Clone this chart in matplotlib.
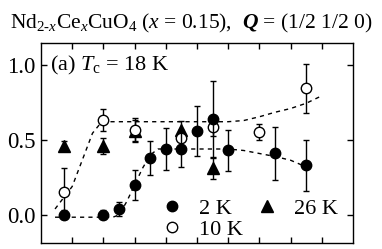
import matplotlib
matplotlib.use('Agg')
import matplotlib.pyplot as plt
from matplotlib.lines import Line2D

plt.rcParams.update({
    'font.family': 'Liberation Serif',
    'mathtext.fontset': 'custom',
    'mathtext.rm': 'Liberation Serif',
    'mathtext.it': 'Liberation Serif:italic',
    'mathtext.bf': 'Liberation Serif:italic:bold',
    'axes.linewidth': 1.0,
})

# ── DATA ────────────────────────────────────────────────────────────────────
x_2k = [0.75, 2.0, 2.5, 3.0, 3.5, 4.0, 4.5, 5.0, 5.5, 6.0, 7.5, 8.5]
y_2k = [0.0, 0.0, 0.04, 0.20, 0.38, 0.44, 0.44, 0.56, 0.64, 0.43, 0.41, 0.33]
e_2k = [0.03, 0.03, 0.045, 0.10, 0.115, 0.14, 0.12, 0.17, 0.255, 0.14, 0.175, 0.172]

x_10k = [0.75, 2.0, 3.0, 4.5, 5.5, 7.0, 8.5]
y_10k = [0.155, 0.633, 0.57, 0.515, 0.59, 0.555, 0.845]
e_10k = [0.155, 0.075, 0.075, 0.05, 0.06, 0.055, 0.165]

x_26k = [0.75, 2.0, 3.0, 4.5, 5.5]
y_26k = [0.46, 0.46, 0.56, 0.567, 0.31]
e_26k = [0.035, 0.055, 0.075, 0.06, 0.07]

# dashed guide lines
gx_2k = [0.45, 2.3, 2.5, 2.75, 3.0, 3.25, 3.5, 3.75, 6.0, 6.5, 7.0, 7.5, 8.0, 8.45]
gy_2k = [-0.015, -0.015, 0.0, 0.09, 0.2, 0.31, 0.40, 0.44, 0.44, 0.43, 0.41, 0.39, 0.365, 0.325]
gx_10k = [0.45, 1.0, 1.33, 1.65, 1.92, 2.2, 6.0, 6.5, 7.0, 7.5, 8.0, 8.5, 9.0]
gy_10k = [0.04, 0.19, 0.37, 0.545, 0.615, 0.622, 0.622, 0.63, 0.655, 0.685, 0.71, 0.745, 0.795]

DASH = (0, (3, 3))
MS = 7.5

fig = plt.figure(figsize=(3.82, 2.49), dpi=100)
ax = fig.add_axes([41/382, 6/249, 312/382, 200/249])

ax.plot(gx_10k, gy_10k, color='k', lw=1.0, ls=DASH, zorder=1)
ax.plot(gx_2k, gy_2k, color='k', lw=1.0, ls=DASH, zorder=1)

eb = dict(ecolor='k', elinewidth=1.0, capsize=2.5, capthick=1.0, ls='none')
ax.errorbar(x_26k, y_26k, yerr=e_26k, marker='^', ms=MS + 0.5, mfc='k', mec='k', zorder=3, **eb)
ax.errorbar(x_10k, y_10k, yerr=e_10k, marker='o', ms=MS, mfc='white', mec='k', mew=1.0, zorder=4, **eb)
ax.errorbar(x_2k, y_2k, yerr=e_2k, marker='o', ms=MS, mfc='k', mec='k', zorder=5, **eb)

ax.set_xlim(0, 10)
ax.set_ylim(-0.187, 1.147)
ax.set_xticks(range(1, 10))
ax.set_xticklabels([])
ax.set_yticks([0.0, 0.5, 1.0])
ax.set_yticklabels(['0.0', '0.5', '1.0'])
ax.tick_params(direction='in', length=4.5, width=1.0, top=True, right=True,
               labelsize=16.5, pad=4)

ax.text(0.03, 0.89, r'(a) $T_{\rm c}$ = 18 K', transform=ax.transAxes,
        fontsize=16, va='center', ha='left')

fig.text(0.5, 0.905, r'Nd$_{2\text{-}x}$Ce$_x$CuO$_4$ ($x$ = 0.15),  $\mathbf{Q}$ = (1/2 1/2 0)',
         ha='center', va='center', fontsize=15.5)

handles = [Line2D([], [], marker='o', ls='none', color='k', ms=MS),
           Line2D([], [], marker='o', ls='none', mfc='white', mec='k', ms=MS),
           Line2D([], [], marker='^', ls='none', color='k', ms=MS + 0.5)]
ax.legend(handles, ['2 K', '10 K', '26 K'], ncol=2, loc='upper left',
          bbox_to_anchor=(0.334, 0.3), fontsize=16, frameon=False,
          handlelength=1.0, handletextpad=0.7, columnspacing=0.6,
          labelspacing=0.0, borderpad=0.2)

fig.savefig('out.png', dpi=100)
